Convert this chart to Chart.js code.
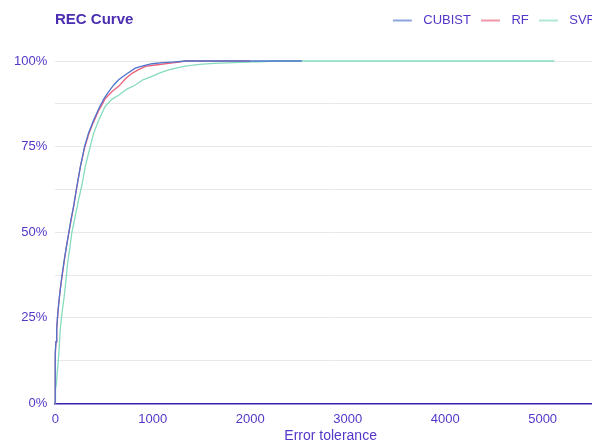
<!DOCTYPE html>
<html>
<head>
    <meta charset="UTF-8" />
    <title>REC Curve</title>
    <script src="https://cdn.jsdelivr.net/npm/chart.js"></script>
    <style>
        body { margin: 0; overflow: hidden; background: #fff; }
        #wrap { position: relative; width: 606px; height: 447px; }
        #title {
            position: absolute; left: 55px; top: 10px;
            font: bold 15px "Liberation Sans", Arial, sans-serif;
            color: #4a2db0;
        }
    </style>
</head>
<body>
<div id="wrap">
    <div id="title">REC Curve</div>
    <canvas id="recChart" width="606" height="447"></canvas>
</div>
<script>
    // error tolerance (x) and accuracy in % (y)
    const cubistTol = [0, 0, 8, 15, 25, 35, 50, 70, 90, 110, 137, 160, 188, 220, 257, 300, 342, 390, 445, 500, 547, 600, 650, 720, 821, 900, 993, 1100, 1200, 1340, 2530];
    const cubistAcc = [0, 15, 18, 22, 26, 29, 33, 37.5, 41.5, 45, 49.5, 53.5, 57.5, 63, 69, 75, 79, 82.5, 86, 89, 91, 93, 94.5, 96, 97.9, 98.6, 99.2, 99.5, 99.7, 100, 100];

    const rfTol = [0, 0, 8, 15, 25, 35, 50, 70, 90, 110, 137, 160, 188, 220, 257, 300, 342, 390, 445, 513, 580, 650, 720, 787, 850, 924, 1050, 1163, 1250, 1335, 2000];
    const rfAcc = [0, 14, 18, 21.5, 25.5, 29, 33, 37, 41, 45, 49.5, 53, 57.5, 63, 69, 74.5, 78.5, 82, 85.5, 89, 91, 92.6, 94.8, 96.4, 97.4, 98.4, 98.9, 99.3, 99.6, 100, 100];

    const svrTol = [0, 0, 5, 13, 20, 31, 40, 51, 70, 92, 110, 127, 150, 171, 200, 240, 275, 308, 350, 394, 450, 513, 580, 650, 736, 821, 900, 993, 1080, 1163, 1250, 1335, 1480, 1625, 1900, 2300, 5120];
    const svrAcc = [0, 2, 4, 6, 9, 12.3, 16, 21.6, 26.5, 31.3, 36, 41, 45.5, 50, 54, 59.5, 64, 69.2, 74, 78.9, 83, 86.8, 88.8, 90, 91.8, 93, 94.5, 95.5, 96.6, 97.4, 98, 98.5, 99, 99.3, 99.6, 100, 100];

    const xTicks = [0, 1000, 2000, 3000, 4000, 5000];
    const yTicks = [0, 25, 50, 75, 100];

    const toPoints = (xs, ys) => xs.map((x, i) => ({ x: x, y: ys[i] }));

    const txt = '#5536c8';
    const font = { family: '"Liberation Sans", Arial, sans-serif', size: 13 };

    // legend key: short line with some space after it
    function keyLine(color) {
        const c = document.createElement('canvas');
        c.width = 24; c.height = 6;
        const g = c.getContext('2d');
        g.strokeStyle = color;
        g.lineWidth = 1.3;
        g.beginPath();
        g.moveTo(0, 3); g.lineTo(19, 3);
        g.stroke();
        return c;
    }

    // push the plot down below the legend row
    const legendSpacer = {
        id: 'legendSpacer',
        beforeInit(chart) {
            const fit = chart.legend.fit;
            chart.legend.fit = function () {
                fit.bind(chart.legend)();
                this.height += 24;
            };
        }
    };

    const ctx = document.getElementById('recChart').getContext('2d');
    new Chart(ctx, {
        type: 'line',
        data: {
            datasets: [
                { label: 'CUBIST', data: toPoints(cubistTol, cubistAcc), borderColor: '#4f74cc' },
                { label: 'RF', data: toPoints(rfTol, rfAcc), borderColor: '#e8607a' },
                { label: 'SVR', data: toPoints(svrTol, svrAcc), borderColor: '#86dcbc' }
            ].map(d => Object.assign(d, {
                borderWidth: 1.3, pointRadius: 0, fill: false, clip: 4, tension: 0,
                pointStyle: keyLine(d.borderColor)
            }))
        },
        options: {
            responsive: false,
            animation: false,
            layout: { padding: { top: 4, right: 0, left: 6, bottom: 0 } },
            plugins: {
                legend: {
                    position: 'top',
                    align: 'end',
                    labels: {
                        usePointStyle: true,
                        pointStyleWidth: 24,
                        color: txt,
                        font: font,
                        padding: 10
                    }
                },
                tooltip: { enabled: false }
            },
            scales: {
                x: {
                    type: 'linear',
                    min: 0,
                    max: 5650,
                    grid: { display: false, drawTicks: false },
                    border: { display: true, color: '#3b1fb0', width: 1.5 },
                    afterBuildTicks: s => { s.ticks = xTicks.map(v => ({ value: v })); },
                    ticks: { color: txt, font: font, padding: 8, maxRotation: 0, autoSkip: false, callback: v => String(v) },
                    title: {
                        display: true, text: 'Error tolerance', color: txt,
                        font: { family: font.family, size: 14, lineHeight: 1 },
                        padding: { top: -6, bottom: 4 }
                    }
                },
                y: {
                    min: 0,
                    max: 100,
                    grid: { color: '#e8e8e8', lineWidth: 1, drawTicks: false },
                    border: { display: false },
                    ticks: {
                        stepSize: 12.5,
                        color: txt,
                        font: font,
                        padding: 8,
                        callback: v => yTicks.includes(v) ? v + '%' : ''
                    }
                }
            }
        },
        plugins: [legendSpacer]
    });
</script>
</body>
</html>
